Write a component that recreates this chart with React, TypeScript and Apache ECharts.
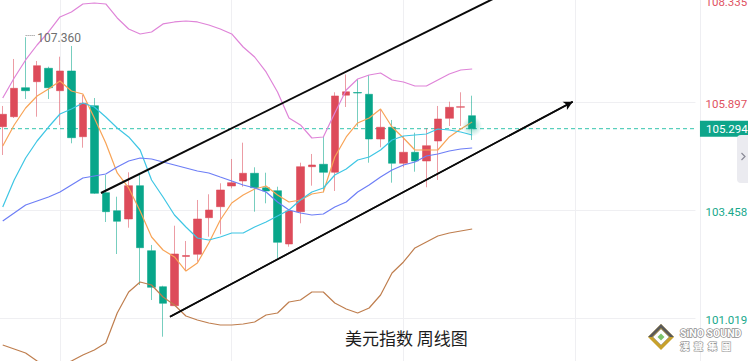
import React, { useEffect, useRef } from "react";
import * as echarts from "echarts";

// Weekly categories (US Dollar Index, weekly candles)
const WEEKS = [
  "2023-09-18", "2023-09-25", "2023-10-02", "2023-10-09", "2023-10-16", "2023-10-23", "2023-10-30",
  "2023-11-06", "2023-11-13", "2023-11-20", "2023-11-27", "2023-12-04", "2023-12-11", "2023-12-18",
  "2023-12-25", "2024-01-01", "2024-01-08", "2024-01-15", "2024-01-22", "2024-01-29", "2024-02-05",
  "2024-02-12", "2024-02-19", "2024-02-26", "2024-03-04", "2024-03-11", "2024-03-18", "2024-03-25",
  "2024-04-01", "2024-04-08", "2024-04-15", "2024-04-22", "2024-04-29", "2024-05-06", "2024-05-13",
  "2024-05-20", "2024-05-27", "2024-06-03", "2024-06-10", "2024-06-17", "2024-06-24", "2024-07-01",
  "2024-07-08", "2024-07-15", "2024-07-22", "2024-07-29", "2024-08-05", "2024-08-12", "2024-08-19",
  "2024-08-26", "2024-09-02", "2024-09-09", "2024-09-16", "2024-09-23", "2024-09-30", "2024-10-07",
  "2024-10-14", "2024-10-21", "2024-10-28", "2024-11-04", "2024-11-11",
];

const OPEN = [
  105.339, 105.565, 106.22, 106.355, 106.658, 106.152, 106.597, 105.113, 105.813, 103.849,
  103.442, 103.255, 104.007, 102.539, 101.726, 101.297, 102.41, 102.458, 103.284, 103.533,
  104.0, 104.113, 104.287, 103.962, 103.894, 102.69, 103.42, 104.436, 104.49, 104.309,
  106.051, 106.11, 106.071, 105.061, 105.326, 104.513, 104.761, 104.565, 105.016, 105.529,
  105.78, 105.588,
];
const CLOSE = [
  105.619, 106.206, 106.152, 106.717, 106.22, 106.597, 105.091, 105.868, 103.835, 103.42,
  103.203, 104.007, 102.607, 101.712, 101.351, 102.464, 102.43, 103.255, 103.458, 103.91,
  104.075, 104.287, 103.962, 103.887, 102.728, 103.435, 104.436, 104.474, 104.309, 106.033,
  106.127, 106.1, 105.061, 105.326, 104.513, 104.761, 104.565, 104.91, 105.513, 105.777,
  105.79, 105.294,
];
const LOW = [
  104.7, 105.536, 105.965, 105.565, 105.965, 105.378, 104.964, 104.865, 103.82, 103.187,
  102.464, 103.058, 101.764, 101.425, 100.597, 101.29, 102.08, 102.29, 102.855, 102.909,
  103.948, 103.984, 103.42, 103.609, 102.367, 102.629, 103.158, 104.007, 103.858, 103.887,
  105.784, 105.339, 104.526, 104.874, 104.075, 104.422, 104.323, 103.971, 104.136, 105.355,
  105.355, 105.039,
];
const HIGH = [
  105.807, 106.868, 107.36, 106.823, 106.694, 106.92, 107.162, 106.055, 105.987, 104.248,
  103.758, 104.309, 104.287, 102.668, 101.748, 103.103, 102.758, 103.684, 103.813, 104.061,
  104.61, 104.978, 104.422, 104.3, 103.984, 103.44, 104.526, 104.723, 105.113, 106.116,
  106.518, 106.416, 106.507, 105.732, 105.491, 105.129, 105.204, 105.303, 105.807, 105.904,
  106.116, 106.039,
];

// Moving averages / Bollinger lines
const MA_ORANGE = [
  104.903, 105.378, 105.762, 106.033, 106.191, 106.371, 106.146, 106.078, 105.536, 104.971,
  104.294, 103.955, 103.435, 102.848, 102.555, 102.397, 102.08, 102.261, 102.713, 103.232,
  103.616, 103.797, 103.932, 104.0, 103.797, 103.639, 103.684, 103.819, 103.864, 104.655,
  105.107, 105.423, 105.536, 105.739, 105.332, 105.084, 104.813, 104.813, 104.813, 105.107,
  105.287, 105.445,
];
const MA_CYAN = [
  103.526, 104.136, 104.632, 105.016, 105.332, 105.626, 105.739, 105.874, 105.784, 105.558,
  105.31, 105.107, 104.813, 104.136, 103.752, 103.345, 103.074, 102.826, 102.78, 102.848,
  102.939, 102.939, 103.074, 103.187, 103.323, 103.458, 103.684, 103.864, 103.955, 104.248,
  104.384, 104.587, 104.655, 104.813, 105.039, 105.129, 105.152, 105.174, 105.287, 105.265,
  105.22, 105.152,
];
const BOLL_MID = [
  103.21, 103.39, 103.571, 103.661, 103.752, 103.864, 104.023, 104.181, 104.226, 104.271,
  104.429, 104.565, 104.632, 104.61, 104.542, 104.474, 104.406, 104.339, 104.294, 104.203,
  104.113, 104.023, 103.955, 103.864, 103.639, 103.458, 103.39, 103.345, 103.368, 103.526,
  103.639, 103.864, 104.023, 104.203, 104.361, 104.474, 104.542, 104.678, 104.723, 104.79,
  104.836, 104.858,
];
const BOLL_UP = [
  105.987, 106.439, 106.846, 107.184, 107.478, 107.817, 107.93, 108.11, 108.133, 108.11,
  107.794, 107.546, 107.433, 107.478, 107.659, 107.704, 107.726, 107.704, 107.636, 107.546,
  107.433, 107.139, 106.913, 106.575, 106.123, 105.536, 105.378, 105.084, 105.107, 105.649,
  106.168, 106.416, 106.507, 106.552, 106.394, 106.349, 106.258, 106.258, 106.394, 106.529,
  106.62, 106.642,
];
const BOLL_LOW = [
  100.409, 100.319, 100.228, 100.048, 99.935, 99.935, 100.048, 100.183, 100.296, 100.454,
  101.132, 101.606, 101.832, 101.764, 101.493, 101.313, 101.064, 100.974, 100.906, 100.861,
  100.861, 100.883, 100.929, 101.087, 101.132, 101.38, 101.425, 101.606, 101.606, 101.358,
  101.222, 101.132, 101.245, 101.538, 102.035, 102.284, 102.6, 102.735, 102.871, 102.939,
  102.984, 103.029,
];

const TICK_LABELS = ["108.335", "105.897", "103.458", "101.019"];
const LAST_PRICE_LABEL = "105.294";
const PEAK_LABEL = "107.360";
const PEAK_INDEX = 2;
const GRID_WEEK_INDEX = [5, 20, 35, 50];
// trend lines: [week position, price]
const UPPER_TREND = [[9.08, 103.842], [43.49, 108.246]];
const LOWER_TREND = [[15.11, 101.048], [50.28, 105.904]];

const RED = "#dd4b5a";
const GREEN = "#08a68a";
const RED_TXT = "#e0525f";
const GREEN_TXT = "#17a88b";
const LAST_LINE = "#33c4ad";

export default function App() {
  const ref = useRef<HTMLDivElement>(null);

  useEffect(() => {
    if (!ref.current) return;
    const chart = echarts.init(ref.current, null, { renderer: "svg" });
    const lastPrice = parseFloat(LAST_PRICE_LABEL);
    const candles = OPEN.map((o, i) => [o, CLOSE[i], LOW[i], HIGH[i]]);
    const N = WEEKS.length;

    const lineSeries = (name: string, data: number[], color: string) => ({
      name,
      type: "line",
      data,
      showSymbol: false,
      symbol: "none",
      smooth: false,
      z: 3,
      lineStyle: { color, width: 1.2 },
      silent: true,
    });

    const gridLines: any[] = [
      ...TICK_LABELS.map((t, i) => ({
        yAxis: parseFloat(t),
        lineStyle: { color: "#efeff2", width: 1, type: "solid" },
        label: {
          show: true,
          position: "end",
          formatter: t,
          color: parseFloat(t) > lastPrice ? RED_TXT : GREEN_TXT,
          fontSize: 11.5,
          fontFamily: "Roboto, sans-serif",
          distance: 10,
          offset: i === 0 ? [0, 8] : [0, 2],
        },
      })),
      ...GRID_WEEK_INDEX.map((w) => ({
        xAxis: w,
        lineStyle: { color: "#efeff2", width: 1, type: "solid" },
        label: { show: false },
      })),
    ];

    const option: any = {
      animation: false,
      backgroundColor: "#ffffff",
      title: {
        text: "美元指数 周线图",
        left: 340,
        top: 324,
        textStyle: {
          fontSize: 17,
          fontWeight: "normal",
          color: "#1c1c1c",
          fontFamily: '"Noto Sans CJK SC", sans-serif',
        },
      },
      grid: {
        left: -3,
        top: -10,
        width: 698.45,
        height: 371,
        containLabel: false,
        outerBoundsMode: "none",
      },
      xAxis: [
        { type: "category", data: WEEKS, show: false, boundaryGap: true },
        { type: "value", min: 0, max: N, show: false },
      ],
      yAxis: [
        { type: "value", min: 100.048, max: 108.426, show: false, scale: true },
      ],
      series: [
        {
          name: "DXY",
          type: "candlestick",
          data: candles,
          barWidth: 8,
          z: 2,
          itemStyle: {
            color: RED,
            color0: GREEN,
            borderColor: "rgba(221,75,90,0.55)",
            borderColor0: "rgba(8,166,138,0.55)",
            borderWidth: 1,
          },
          markLine: {
            silent: true,
            symbol: ["none", "none"],
            z: 1,
            animation: false,
            data: gridLines,
          },
          markPoint: {
            silent: true,
            animation: false,
            data: [
              {
                coord: [candles.length - 1, lastPrice + 0.05],
                symbol: "circle",
                symbolSize: 20,
                label: { show: false },
                itemStyle: {
                  color: new echarts.graphic.RadialGradient(0.5, 0.5, 0.5, [
                    { offset: 0, color: "rgba(8,166,138,0.45)" },
                    { offset: 1, color: "rgba(8,166,138,0)" },
                  ]),
                },
              },
            ],
          },
        },
        {
          name: "last price",
          type: "line",
          xAxisIndex: 1,
          data: [[0, lastPrice], [N, lastPrice]],
          showSymbol: false,
          symbol: "none",
          z: 1,
          silent: true,
          color: LAST_LINE,
          lineStyle: { color: LAST_LINE, width: 1, type: [4, 3] },
          markLine: {
            silent: true,
            animation: false,
            z: 5,
            symbol: ["none", "none"],
            lineStyle: { color: "rgba(0,0,0,0)", width: 0 },
            label: {
              show: true,
              position: "end",
              formatter: LAST_PRICE_LABEL,
              color: "#ffffff",
              opacity: 1,
              backgroundColor: "#0ea58a",
              padding: [2, 8, 2, 6],
              fontSize: 11.5,
              lineHeight: 12,
              fontFamily: "Roboto, sans-serif",
              distance: 4.5,
            },
            data: [{ yAxis: lastPrice }],
          },
        },
        lineSeries("MA fast", MA_ORANGE, "#f8a457"),
        lineSeries("MA mid", MA_CYAN, "#3ec6e4"),
        lineSeries("BOLL mid", BOLL_MID, "#6d7ef6"),
        lineSeries("BOLL up", BOLL_UP, "#df84d8"),
        lineSeries("BOLL low", BOLL_LOW, "#bf7e4e"),
        {
          name: "upper trend",
          type: "line",
          xAxisIndex: 1,
          data: UPPER_TREND,
          showSymbol: false,
          symbol: "none",
          z: 4,
          silent: true,
          lineStyle: { color: "#0a0a0a", width: 2 },
        },
        {
          name: "lower trend",
          type: "line",
          xAxisIndex: 1,
          data: LOWER_TREND,
          showSymbol: false,
          symbol: "none",
          z: 4,
          silent: true,
          lineStyle: { color: "#0a0a0a", width: 1.6 },
          markLine: {
            silent: true,
            animation: false,
            z: 4,
            symbol: ["none", "arrow"],
            symbolSize: [7, 9],
            lineStyle: { color: "#0a0a0a", width: 1.6, type: "solid" },
            label: { show: false },
            data: [
              [
                { coord: LOWER_TREND[0] },
                { coord: LOWER_TREND[1] },
              ],
            ],
          },
        },
        {
          name: "peak",
          type: "line",
          xAxisIndex: 1,
          data: [],
          z: 4,
          silent: true,
          markLine: {
            silent: true,
            animation: false,
            z: 4,
            symbol: ["none", "none"],
            lineStyle: { color: "#888", width: 1, type: [1, 1] },
            label: {
              show: true,
              position: "end",
              formatter: PEAK_LABEL,
              color: "#6f6f6f",
              fontSize: 12,
              fontFamily: "Roboto, sans-serif",
              distance: 2,
              offset: [0, 3],
            },
            data: [
              [
                { coord: [PEAK_INDEX + 0.5, parseFloat(PEAK_LABEL) + 0.05] },
                { coord: [PEAK_INDEX + 1.35, parseFloat(PEAK_LABEL) + 0.05] },
              ],
            ],
          },
        },
      ],
      graphic: [
        {
          type: "line",
          silent: true,
          shape: { x1: 700.5, y1: 0, x2: 700.5, y2: 361 },
          style: { stroke: "#eeeef2", lineWidth: 1 },
          z: 1,
        },
        {
          type: "rect",
          silent: true,
          shape: { x: 737, y: 135, width: 16, height: 48, r: 4 },
          style: { fill: "#ebebf0" },
          z: 10,
        },
        {
          type: "polyline",
          silent: true,
          shape: { points: [[741.5, 153], [745, 156.5], [741.5, 160]] },
          style: { stroke: "#8a8a96", lineWidth: 1.2, fill: "none" },
          z: 11,
        },
        // logo
        {
          type: "polygon",
          silent: true,
          shape: { points: [[661, 324], [674, 337], [661, 350], [648, 337]] },
          style: { fill: "#c7a12d" },
          z: 10,
        },
        {
          type: "polygon",
          silent: true,
          shape: { points: [[661, 324], [674, 337], [670, 337], [661, 328], [652, 337], [648, 337]] },
          style: { fill: "#5a5a5a" },
          z: 11,
        },
        {
          type: "polygon",
          silent: true,
          shape: { points: [[661, 329], [669, 337], [661, 345], [653, 337]] },
          style: { fill: "#ffffff", stroke: "#9a9a9a", lineWidth: 0.6 },
          z: 12,
        },
        {
          type: "polygon",
          silent: true,
          shape: { points: [[661, 333.5], [664.5, 337], [661, 340.5], [657.5, 337]] },
          style: { fill: "#7cc36a" },
          z: 13,
        },
        {
          type: "text",
          silent: true,
          x: 680,
          y: 333,
          style: {
            text: "SiNO SOUND",
            fontSize: 10.5,
            fontWeight: "bold",
            fontFamily: "Roboto, sans-serif",
            fill: "#ffffff",
            stroke: "#8c8c8c",
            lineWidth: 1.4,
            verticalAlign: "middle",
          },
          z: 12,
        },
        {
          type: "text",
          silent: true,
          x: 680,
          y: 346,
          style: {
            text: "漢  聲  集  團",
            fontSize: 9.5,
            fontWeight: "bold",
            fontFamily: '"Noto Sans CJK TC", sans-serif',
            fill: "#ffffff",
            stroke: "#9a9a9a",
            lineWidth: 1.2,
            verticalAlign: "middle",
          },
          z: 12,
        },
      ],
    };

    chart.setOption(option);
    return () => chart.dispose();
  }, []);

  return (
    <div
      ref={ref}
      style={{ position: "absolute", left: 0, top: 0, width: 748, height: 361, background: "#fff" }}
    />
  );
}
